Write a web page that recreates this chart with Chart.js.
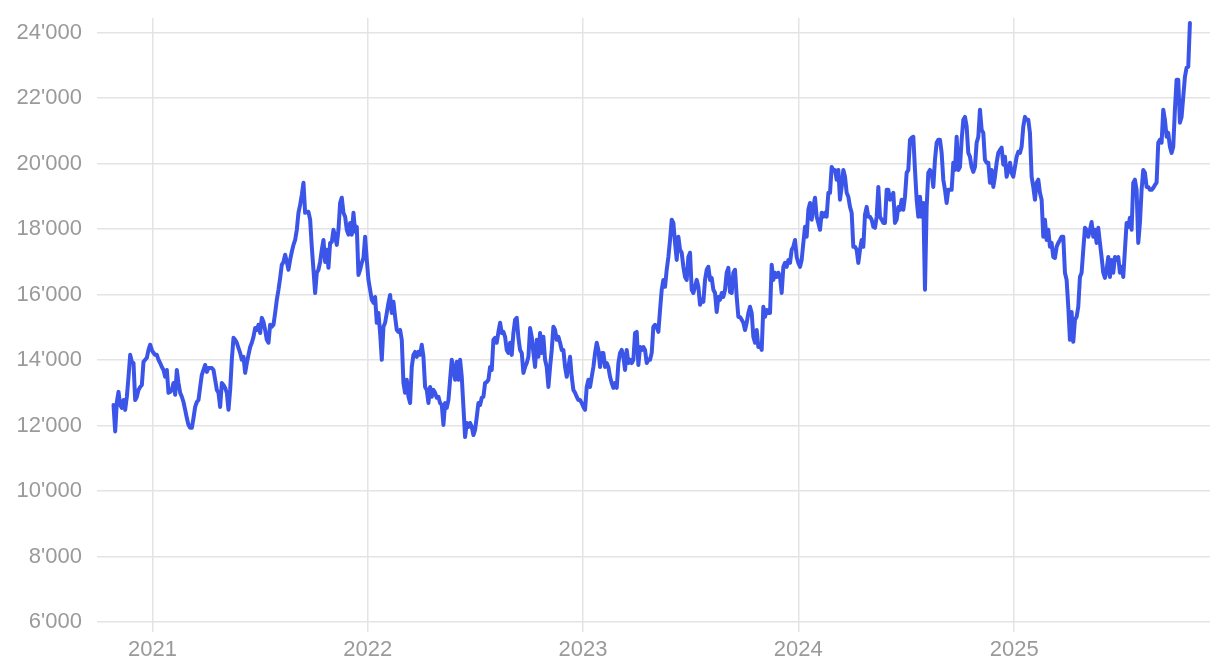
<!DOCTYPE html>
<html><head><meta charset="utf-8">
<script src="https://cdn.jsdelivr.net/npm/chart.js@4.4.1/dist/chart.umd.min.js"></script>
<style>html,body{margin:0;padding:0;background:#fff}#wrap{width:1220px;height:668px}</style>
</head><body><div id="wrap"><canvas id="c" width="1220" height="668"></canvas></div>
<script>
// Sampling grid of the series (first sample date, spacing in days)
const startDate = '2020-10-27';
const stepDays = 2.825;
// Series values
const values = [
12630,11820,12720,13030,12630,12540,12780,12480,12880,13490,
14160,13950,13910,12780,12880,13090,13180,13240,13950,14010,
14070,14310,14470,14310,14220,14160,14160,14010,13910,13790,
13700,13490,13700,13000,13030,13090,13300,12940,13700,13300,
13000,12880,12720,12480,12230,12020,11930,11930,12230,12570,
12720,12780,13180,13550,13700,13850,13640,13760,13760,13760,
13700,13400,13090,13000,12570,13300,13240,13150,13000,12480,
13090,14010,14680,14620,14530,14370,14220,14010,14100,13610,
13910,14160,14400,14530,14710,14980,14920,15080,14830,15290,
15170,14920,14620,14530,15080,15020,15080,15440,15840,16150,
16510,16910,17000,17220,17000,16760,17060,17310,17520,17670,
17980,18500,18740,19050,19420,18500,18530,18530,18290,17460,
16760,16050,16670,16760,17000,17370,17670,17000,17370,16820,
17580,17610,17980,17770,17520,17980,18800,18960,18500,18380,
17980,17830,18190,17830,18500,17920,18070,16600,16760,16970,
17120,17770,17060,16450,16150,15840,15750,15930,15140,15440,
14830,14010,15020,15140,15440,15750,15990,15440,15780,15320,
14920,14860,14920,14620,13300,13000,13400,12880,12690,13790,
14160,14250,14100,14250,14160,14470,14100,13180,13090,12690,
13180,12880,13090,13000,12850,12880,12690,12630,12020,12690,
12540,12780,13400,14010,13700,13400,13950,13400,14010,13490,
12570,11650,12080,11960,12080,11960,11710,11870,12260,12690,
12630,12850,12880,13300,13330,13400,13790,13700,14620,14680,
14530,14860,15140,14830,14860,14710,14310,14220,14530,14160,
14830,15230,15290,14680,14310,14220,13610,13790,13910,14100,
14980,14710,14220,13790,14620,14100,14830,14220,14710,14010,
13790,13180,13790,14310,15020,14920,14620,14710,14530,14310,
14310,13790,13490,13790,14100,13490,13090,13000,12880,12780,
12780,12690,12570,12480,13180,13400,13180,13490,13790,14220,
14530,14310,13790,14220,14220,13790,13910,13790,13490,13300,
13150,13300,13150,13910,14220,14310,14100,13700,14310,13910,
14010,13910,14010,14830,14860,13850,14400,14310,14400,14310,
13910,14010,14010,14220,15020,15080,15020,14860,15530,16150,
16450,16240,16760,17150,17670,18290,18190,17580,17060,17770,
17370,17280,16850,16540,16450,17150,17280,16150,16050,16240,
16450,16240,15690,15840,15780,16450,16760,16850,16450,16510,
16150,16050,15470,15930,15840,16050,15930,16150,16670,16820,
16080,16050,16670,16760,15930,15320,15320,15230,15140,14920,
15140,15440,15630,15440,14710,14530,14920,14400,14470,14310,
15630,15320,15530,15440,15440,16910,16450,16670,16540,16670,
16540,16050,16850,16970,16850,17060,16970,17370,17460,17670,
17150,16970,16850,17060,17580,18070,17770,18590,18800,18290,
18680,18960,18380,18190,17980,18500,18380,18500,18380,19110,
19110,19900,19810,19810,19510,19810,18900,19290,19810,19600,
19110,18990,18680,18500,17460,17460,17370,16970,17370,17670,
17460,18440,18680,18380,18380,18290,18070,18040,18380,19290,
18380,18290,18190,18190,19200,19200,18900,18990,19110,18190,
18290,18680,18590,18900,18590,18990,19720,19810,20730,20790,
20820,19810,18900,18380,18990,18380,18800,16150,18680,19720,
19810,19720,19290,20120,20640,20730,20730,20330,19510,19200,
18800,19200,19200,19200,20030,19810,20820,19810,19900,20730,
21340,21430,21130,20330,20210,19900,19750,19900,20640,20820,
21650,21040,20940,20120,20030,20030,19420,19810,19290,19600,
20030,20330,20420,20490,19970,20210,19600,19810,20030,19720,
19600,19900,20210,20360,20330,20520,21130,21430,21340,21340,
20940,19600,19290,18900,19420,19510,19110,18900,17770,18290,
17670,17980,17460,17580,17150,17120,17460,17580,17670,17770,
17770,16670,16450,15630,14620,15470,14560,15230,15320,15630,
16540,16670,17370,18040,17980,17770,17980,18220,17770,17980,
17580,18040,17580,17150,16670,16510,16760,17150,16540,17060,
16670,17150,17060,17150,16670,16850,16540,17370,18190,18070,
18350,17980,19420,19510,19200,17580,18190,19200,19810,19720,
19290,19290,19200,19200,19260,19350,19420,20640,20730,20640,
21650,21340,20820,20940,20520,20330,20520,21650,22560,22560,
21250,21430,22040,22650,22930,22960,24300
];
// Axis tick labels
const yearLabels = ['2021','2022','2023','2024','2025'];
const yTickValues = [6000,8000,10000,12000,14000,16000,18000,20000,22000,24000];
// Axis ranges (days from startDate / value units)
const xRange = [-28, 1859];
const yRange = [6000, 24450];

const DAY = 86400000;
const t0 = Date.parse(startDate + 'T00:00:00Z');
const yearDays = yearLabels.map(y => (Date.parse(y + '-01-01T00:00:00Z') - t0) / DAY);
const points = values.map((v, i) => ({x: i * stepDays, y: v}));

function fmt(v){
  return String(v).replace(/\B(?=(\d{3})+(?!\d))/g, "'");
}

const gridColor = '#e4e4e4';
const tickColor = '#9a9a9a';
const font = {family: "'Liberation Sans', Arial, sans-serif", size: 22};

new Chart(document.getElementById('c'), {
  type: 'line',
  data: {
    datasets: [{
      data: points,
      borderColor: '#3b55e8',
      borderWidth: 4,
      pointRadius: 0,
      tension: 0,
      borderJoinStyle: 'round',
      borderCapStyle: 'round',
      fill: false,
      clip: false
    }]
  },
  options: {
    responsive: false,
    devicePixelRatio: 1,
    animation: false,
    parsing: false,
    layout: {padding: {top: 18, right: 10, left: 0, bottom: 0}},
    plugins: {legend: {display: false}, tooltip: {enabled: false}},
    scales: {
      x: {
        type: 'linear',
        min: xRange[0], max: xRange[1],
        afterBuildTicks: s => { s.ticks = yearDays.map(v => ({value: v})); },
        afterFit: s => { s.height = 46; s.paddingLeft = 0; s.paddingRight = 0; },
        ticks: {
          callback: (v, i) => yearLabels[i],
          color: tickColor, font: font, padding: 5, maxRotation: 0, autoSkip: false
        },
        grid: {color: gridColor, lineWidth: 1.5, tickLength: 10, drawTicks: true},
        border: {display: false}
      },
      y: {
        type: 'linear',
        min: yRange[0], max: yRange[1],
        afterBuildTicks: s => { s.ticks = yTickValues.map(v => ({value: v})); },
        afterFit: s => { s.width = 97; s.paddingTop = 0; s.paddingBottom = 0; },
        ticks: {
          callback: v => fmt(v),
          color: tickColor, font: font, padding: 15
        },
        grid: {color: gridColor, lineWidth: 1.5, drawTicks: false},
        border: {display: false}
      }
    }
  }
});
</script>
</body></html>
